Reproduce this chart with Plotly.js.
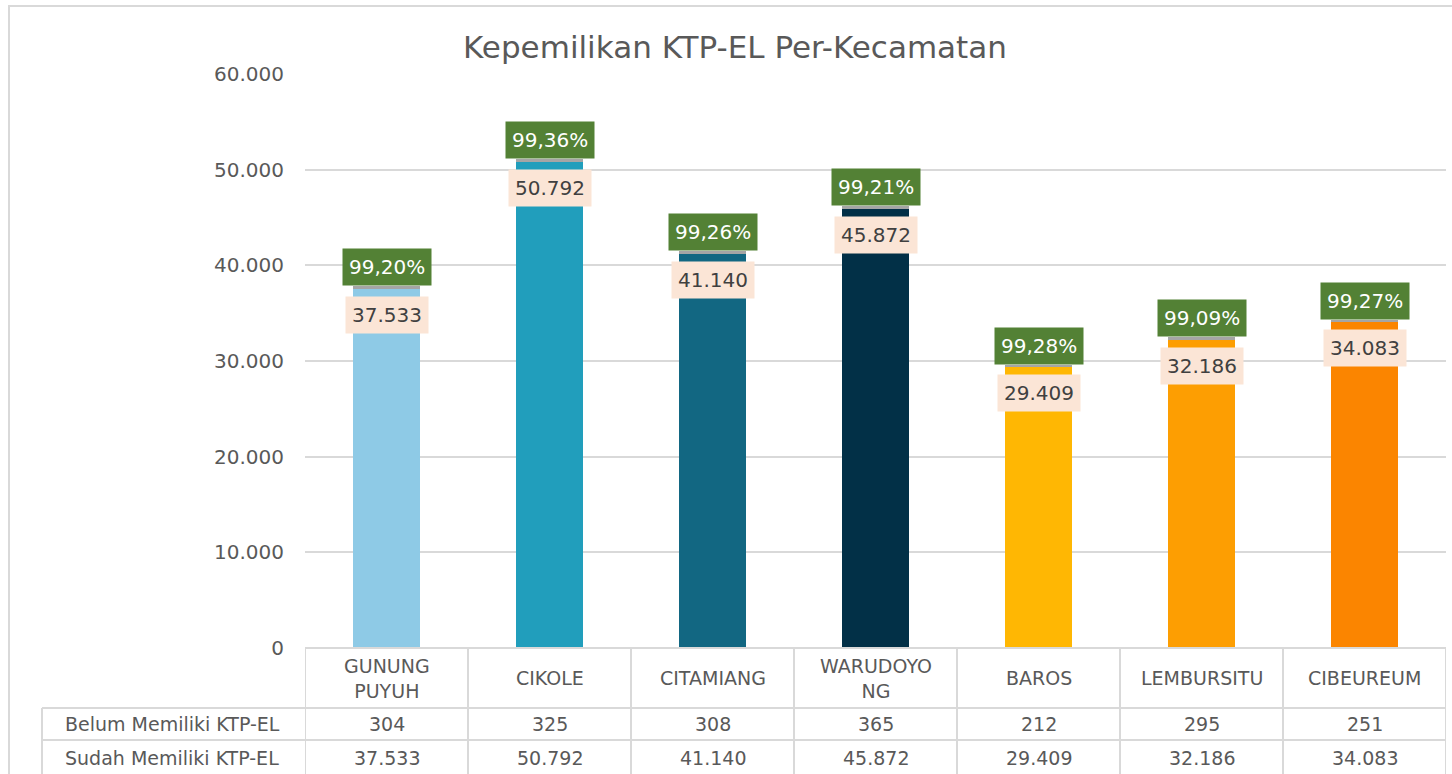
<!DOCTYPE html>
<html>
<head>
<meta charset="utf-8">
<script src="https://cdn.plot.ly/plotly-3.0.1.min.js"></script>
<style>html,body{margin:0;padding:0;background:#fff;}#chart{width:1452px;height:774px;}</style>
</head>
<body>
<div id="chart"></div>
<script>
// ---- DATA ----
const categories = ["GUNUNG PUYUH", "CIKOLE", "CITAMIANG", "WARUDOYONG", "BAROS", "LEMBURSITU", "CIBEUREUM"];
const headerLabels = ["GUNUNG<br>PUYUH", "CIKOLE", "CITAMIANG", "WARUDOYO<br>NG", "BAROS", "LEMBURSITU", "CIBEUREUM"];
const belum = [304, 325, 308, 365, 212, 295, 251];
const sudah = [37533, 50792, 41140, 45872, 29409, 32186, 34083];
const seriesNames = ["Belum Memiliki KTP-EL", "Sudah Memiliki KTP-EL"];
const yTickVals = [0, 10000, 20000, 30000, 40000, 50000, 60000];
const chartTitle = "Kepemilikan KTP-EL Per-Kecamatan";

// ---- STYLE ----
const barColors = ["#8ecae6", "#219ebc", "#126782", "#023047", "#ffb703", "#fd9e02", "#fb8500"];
const belumColor = "#a5a5a5";
const gridColor = "#d9d9d9";
const textColor = "#595959";
const FONT = "DejaVu Sans, sans-serif";

function fmtThousands(n) {
  return String(n).replace(/\B(?=(\d{3})+(?!\d))/g, ".");
}
const totals = sudah.map((s, i) => s + belum[i]);
const pctLabels = sudah.map((s, i) => (s / totals[i] * 100).toFixed(2).replace(".", ",") + "%");

// pixel helpers (layout only)
const L = 305, R = 6, T = 74, B = 126, W = 1452, H = 774;
const PW = W - L - R, PH = H - T - B;
const px = p => (p - L) / PW;
const py = p => (H - B - p) / PH;

const traces = [
  {
    type: "bar", name: seriesNames[1], x: categories, y: sudah,
    marker: {color: barColors}, hoverinfo: "skip"
  },
  {
    type: "bar", name: seriesNames[0], x: categories, y: belum,
    marker: {color: belumColor}, hoverinfo: "skip"
  }
];

const annotations = [];
categories.forEach((c, i) => {
  annotations.push({
    x: c, xref: "x", y: totals[i], yref: "y", yshift: 19,
    text: pctLabels[i], showarrow: false,
    font: {family: FONT, size: 20, color: "#ffffff"},
    bgcolor: "#538135", borderpad: 6
  });
  annotations.push({
    x: c, xref: "x", y: sudah[i], yref: "y", yshift: -26,
    text: fmtThousands(sudah[i]), showarrow: false,
    font: {family: FONT, size: 20, color: "#404040"},
    bgcolor: "#fbe5d6", borderpad: 6
  });
  // table header
  annotations.push({
    x: c, xref: "x", y: py(678), yref: "paper", yanchor: "middle",
    text: headerLabels[i], showarrow: false,
    font: {family: FONT, size: 19, color: textColor}
  });
  annotations.push({
    x: c, xref: "x", y: py(724), yref: "paper", yanchor: "middle",
    text: fmtThousands(belum[i]), showarrow: false,
    font: {family: FONT, size: 19, color: textColor}
  });
  annotations.push({
    x: c, xref: "x", y: py(758), yref: "paper", yanchor: "middle",
    text: fmtThousands(sudah[i]), showarrow: false,
    font: {family: FONT, size: 19, color: textColor}
  });
});
annotations.push({
  x: px(172), xref: "paper", xanchor: "center", y: py(724), yref: "paper", yanchor: "middle",
  text: seriesNames[0], showarrow: false,
  font: {family: FONT, size: 19, color: textColor}
});
annotations.push({
  x: px(172), xref: "paper", xanchor: "center", y: py(758), yref: "paper", yanchor: "middle",
  text: seriesNames[1], showarrow: false,
  font: {family: FONT, size: 19, color: textColor}
});

const lineStyle = {color: gridColor, width: 2};
const shapes = [];
// outer chart border
shapes.push({type: "rect", xref: "paper", yref: "paper", x0: px(9), x1: px(1470), y0: py(6), y1: py(800),
  line: {color: gridColor, width: 2}, fillcolor: "rgba(0,0,0,0)", layer: "below"});
// table horizontal lines
shapes.push({type: "line", xref: "x", yref: "paper", x0: -0.5, x1: categories.length - 0.5, y0: py(648), y1: py(648), line: lineStyle});
[708, 740].forEach(p => {
  shapes.push({type: "line", xref: "paper", yref: "paper", x0: px(42), x1: 1, y0: py(p), y1: py(p), line: lineStyle});
});
// table vertical lines
for (let k = 0; k <= categories.length; k++) {
  shapes.push({type: "line", xref: "x", yref: "paper", x0: k - 0.5, x1: k - 0.5, y0: py(648), y1: py(790), line: lineStyle});
}
shapes.push({type: "line", xref: "paper", yref: "paper", x0: px(42), x1: px(42), y0: py(708), y1: py(790), line: lineStyle});

const layout = {
  width: W, height: H,
  margin: {l: L, r: R, t: T, b: B, pad: 0},
  paper_bgcolor: "#ffffff", plot_bgcolor: "#ffffff",
  separators: ",.",
  barmode: "stack",
  bargap: 0.595,
  showlegend: false,
  title: {
    text: chartTitle, x: 735 / W, xref: "container", xanchor: "center",
    y: 1 - 47 / H, yref: "container", yanchor: "middle",
    font: {family: FONT, size: 31, color: textColor}
  },
  xaxis: {
    type: "category", range: [-0.5, categories.length - 0.5],
    showticklabels: false, showgrid: false, zeroline: false, showline: false, fixedrange: true
  },
  yaxis: {
    range: [0, 60000], tickvals: yTickVals, tickformat: ",d",
    showgrid: true, gridcolor: gridColor, gridwidth: 2, zeroline: false, showline: false,
    ticks: "", ticklabelstandoff: 20,
    tickfont: {family: FONT, size: 20, color: textColor}, fixedrange: true
  },
  annotations: annotations,
  shapes: shapes
};

Plotly.newPlot("chart", traces, layout, {displayModeBar: false, staticPlot: true});
</script>
</body>
</html>
